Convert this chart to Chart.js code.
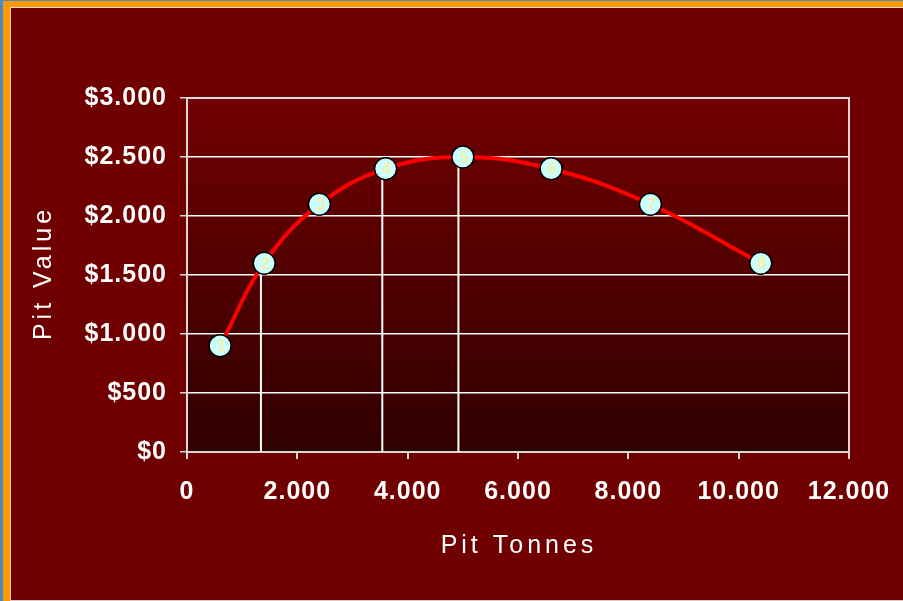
<!DOCTYPE html>
<html>
<head>
<meta charset="utf-8">
<script src="https://cdn.jsdelivr.net/npm/chart.js@4/dist/chart.umd.min.js"></script>
<style>
  html, body { margin: 0; padding: 0; }
  body { width: 903px; height: 601px; background: #4a8ac8; position: relative; overflow: hidden; }
  #frame { position: absolute; left: 3px; top: 1px; width: 900px; height: 600px; background: #ff9900; }
  #inner { position: absolute; left: 10px; top: 7px; width: 892px; height: 592px; background: #700000;
           border-left: 1px solid #e6d6d6; border-top: 1px solid #e6d6d6; border-bottom: 1px solid #d8c8c8; }
  #chart { position: absolute; left: 0; top: 0; }
</style>
</head>
<body>
<div id="frame"></div>
<div id="inner"></div>
<canvas id="chart" width="903" height="601"></canvas>
<script>
(function() {
  'use strict';

  // ── Data ──
  var pitLabels = ['1', '2', '3', '4', '5', '6', '7', '8'];
  var pitTonnes = [600, 1400, 2400, 3600, 5000, 6600, 8400, 10400];
  var pitValue = [900, 1600, 2100, 2400, 2500, 2400, 2100, 1600];
  // white drop lines down to the x axis
  var dropTonnes = [1340, 3540, 4920];
  var dropValue = [1600, 2400, 2500];
  var xTickLabels = ['0', '2.000', '4.000', '6.000', '8.000', '10.000', '12.000'];
  var yTickLabels = ['$0', '$500', '$1.000', '$1.500', '$2.000', '$2.500', '$3.000'];

  var FONT = '"Liberation Sans", Arial, sans-serif';

  function $(id) { return document.getElementById(id); }

  // ── Datasets ──
  var datasets = [{
    label: 'Pit Value',
    data: pitTonnes.map(function(x, i) { return { x: x, y: pitValue[i] }; }),
    borderColor: '#ff0000',
    borderWidth: 4,
    tension: 0.4,
    pointRadius: 11,
    pointBackgroundColor: '#ccffff',
    pointBorderColor: '#000000',
    pointBorderWidth: 1.5,
    order: 0
  }];
  dropTonnes.forEach(function(x, i) {
    datasets.push({
      label: 'drop' + i,
      data: [{ x: x, y: 0 }, { x: x, y: dropValue[i] }],
      borderColor: '#ffffff',
      borderWidth: 2,
      pointRadius: 0,
      tension: 0,
      order: 1
    });
  });

  // ── Plugins ──
  var plotDecor = {
    id: 'plotDecor',
    beforeLayout: function(chart) { chart.ctx.letterSpacing = '1px'; },
    beforeDraw: function(chart) {
      var ctx = chart.ctx, a = chart.chartArea;
      ctx.letterSpacing = '1px';
      var g = ctx.createLinearGradient(0, a.top, 0, a.bottom);
      g.addColorStop(0, '#720000');
      g.addColorStop(1, '#300000');
      ctx.save();
      ctx.fillStyle = g;
      ctx.fillRect(a.left, a.top, a.right - a.left, a.bottom - a.top);
      ctx.restore();
    },
    beforeDatasetsDraw: function(chart) {
      var ctx = chart.ctx, a = chart.chartArea;
      ctx.save();
      ctx.strokeStyle = '#d8d8d8';
      ctx.lineWidth = 2;
      ctx.strokeRect(a.left, a.top, a.right - a.left, a.bottom - a.top);
      ctx.restore();
    },
    afterDatasetsDraw: function(chart) {
      var ctx = chart.ctx;
      var pts = chart.getDatasetMeta(0).data;
      ctx.save();
      ctx.letterSpacing = '0px';
      ctx.font = 'bold 17px ' + FONT;
      ctx.fillStyle = '#f2f0a8';
      ctx.textAlign = 'center';
      ctx.textBaseline = 'middle';
      pts.forEach(function(p, i) { ctx.fillText(pitLabels[i], p.x + 1, p.y + 1); });
      ctx.restore();
    },
    afterDraw: function(chart) {
      var ctx = chart.ctx, a = chart.chartArea;
      ctx.save();
      ctx.letterSpacing = '4px';
      ctx.font = '25px ' + FONT;
      ctx.fillStyle = '#ffffff';
      ctx.textAlign = 'center';
      ctx.textBaseline = 'middle';
      ctx.fillText('Pit Tonnes', (a.left + a.right) / 2 + 1, 546);
      ctx.translate(44, (a.top + a.bottom) / 2);
      ctx.rotate(-Math.PI / 2);
      ctx.fillText('Pit Value', 2, 0);
      ctx.restore();
    }
  };

  // ── Chart ──
  new Chart($('chart'), {
    type: 'line',
    data: { datasets: datasets },
    plugins: [plotDecor],
    options: {
      responsive: false,
      animation: false,
      devicePixelRatio: 1,
      layout: { padding: { top: 98, right: 54, left: 0, bottom: 0 } },
      plugins: { legend: { display: false }, tooltip: { enabled: false } },
      scales: {
        x: {
          type: 'linear',
          min: 0, max: 12000,
          afterFit: function(s) { s.height = 149; s.paddingLeft = 0; s.paddingRight = 0; },
          afterBuildTicks: function(s) {
            s.ticks = xTickLabels.map(function(t, i) { return { value: i * 2000 }; });
          },
          ticks: {
            color: '#ffffff',
            padding: 18,
            maxRotation: 0,
            autoSkip: false,
            font: { family: FONT, size: 25, weight: 'bold' },
            callback: function(v, i) { return xTickLabels[i]; }
          },
          grid: { drawOnChartArea: false, drawTicks: true, tickLength: 7, color: '#d8d8d8', lineWidth: 2 },
          border: { color: '#d8d8d8', width: 2 }
        },
        y: {
          min: 0, max: 3000,
          afterFit: function(s) { s.width = 187; s.paddingTop = 0; s.paddingBottom = 0; },
          afterBuildTicks: function(s) {
            s.ticks = yTickLabels.map(function(t, i) { return { value: i * 500 }; });
          },
          ticks: {
            color: '#ffffff',
            padding: 13,
            autoSkip: false,
            font: { family: FONT, size: 25, weight: 'bold' },
            callback: function(v, i) { return yTickLabels[i]; }
          },
          grid: { color: '#ffffff', lineWidth: 1.5, tickLength: 7, tickColor: '#d8d8d8' },
          border: { color: '#d8d8d8', width: 2 }
        }
      }
    }
  });
})();
</script>
</body>
</html>
